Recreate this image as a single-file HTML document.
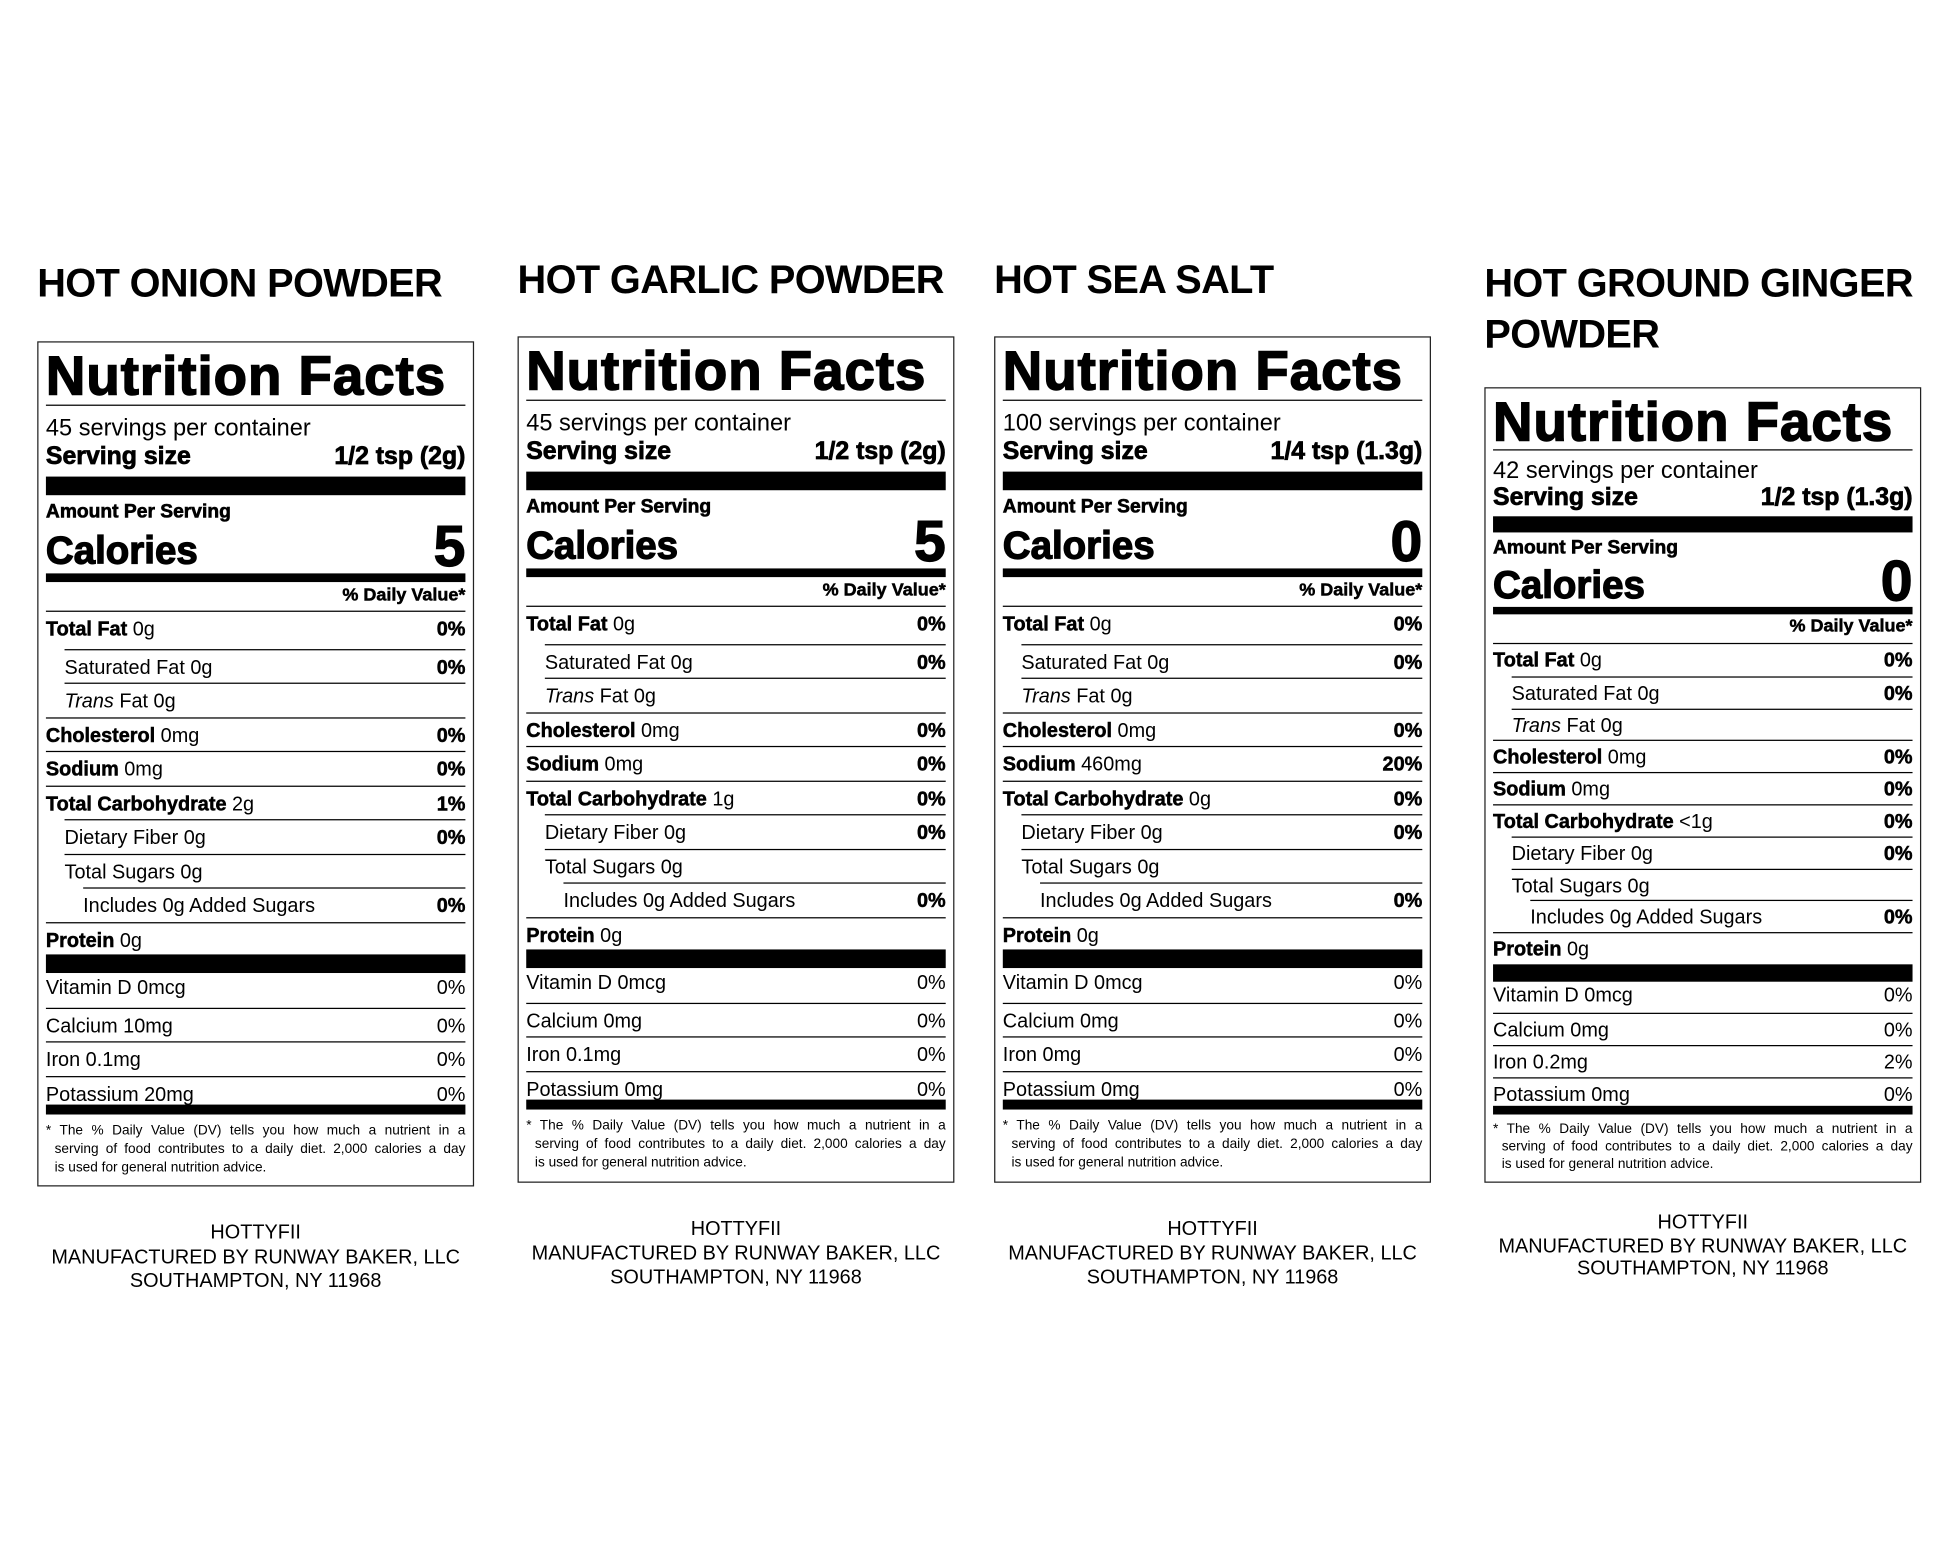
<!DOCTYPE html>
<html><head><meta charset="utf-8"><style>
html,body{margin:0;padding:0;background:#fff;width:1946px;height:1553px;overflow:hidden}
#w{position:absolute;left:0;top:0;width:1568px;height:1251px;transform:scale(1.2411);transform-origin:0 0;font-family:"Liberation Sans",Arial,sans-serif;color:#000}
.t{position:absolute;font-weight:bold;font-size:32px;line-height:40px;white-space:nowrap;letter-spacing:-0.5px}
.f{position:absolute;width:352px;text-align:center;font-size:16px;line-height:19.5px}
.lab{position:absolute;width:352px;border:1.5px solid #222;box-sizing:border-box}
.lab>div{position:absolute;left:6px;right:6px;white-space:nowrap}
.nf{top:5px;height:46px;line-height:46px;font-size:44px;font-weight:bold;letter-spacing:0.8px;-webkit-text-stroke:1.2px #000}
.ln{height:0;border-top:1.5px solid #000}
.sv{font-size:19px;line-height:24px}
.ss{font-size:20px;line-height:22px;font-weight:bold;display:flex;justify-content:space-between;-webkit-text-stroke:0.6px #000}
.bar{background:#000}
.aps{font-size:15.5px;line-height:16px;font-weight:bold;-webkit-text-stroke:0.5px #000}
.cal{font-size:31px;line-height:32px;font-weight:bold;display:flex;justify-content:space-between;align-items:flex-end;-webkit-text-stroke:1px #000}
.cal span:last-child{font-size:46px;line-height:40px}
.dv{font-size:14.5px;line-height:16px;font-weight:bold;text-align:right;-webkit-text-stroke:0.4px #000}
.r{font-size:16px;border-top:1px solid #000;display:flex;justify-content:space-between;box-sizing:border-box}
.r b{-webkit-text-stroke:0.4px #000}
.v{font-size:16px;display:flex;justify-content:space-between;box-sizing:border-box}
.fn{font-size:11px;line-height:15px;white-space:normal!important}
.fn p{margin:0;text-align:justify;text-align-last:justify}
.fn p.i{padding-left:7px}
.fn p.e{text-align-last:left}
.s .r,.s .v{height:27.5px;line-height:29px}
.c .r,.c .v{height:25.8px;line-height:27px}
.fn.c2 {line-height:14px}
</style></head><body><div id="w">

<!-- Label 1 -->
<div class="t" style="left:30px;top:208px">HOT ONION POWDER</div>
<div class="lab s" style="left:30px;top:275px;height:681px">
<div class="nf">Nutrition Facts</div>
<div class="ln" style="top:50px"></div>
<div class="sv" style="top:58px">45 servings per container</div>
<div class="ss" style="top:81px"><span>Serving size</span><span>1/2 tsp (2g)</span></div>
<div class="bar" style="top:108px;height:15px"></div>
<div class="aps" style="top:129px">Amount Per Serving</div>
<div class="cal" style="top:146px;height:38px"><span>Calories</span><span>5</span></div>
<div class="bar" style="top:186px;height:7px"></div>
<div class="dv" style="top:196px">% Daily Value*</div>
<div class="r" style="top:216px"><span><b>Total Fat</b> 0g</span><b>0%</b></div>
<div class="r" style="top:246.5px;left:21px"><span>Saturated Fat 0g</span><b>0%</b></div>
<div class="r" style="top:274px;left:21px"><span><i>Trans</i> Fat 0g</span></div>
<div class="r" style="top:301.5px"><span><b>Cholesterol</b> 0mg</span><b>0%</b></div>
<div class="r" style="top:329px"><span><b>Sodium</b> 0mg</span><b>0%</b></div>
<div class="r" style="top:356.5px"><span><b>Total Carbohydrate</b> 2g</span><b>1%</b></div>
<div class="r" style="top:384px;left:21px"><span>Dietary Fiber 0g</span><b>0%</b></div>
<div class="r" style="top:411.5px;left:21px"><span>Total Sugars 0g</span></div>
<div class="r" style="top:439px;left:36px"><span>Includes 0g Added Sugars</span><b>0%</b></div>
<div class="r" style="top:466.5px"><span><b>Protein</b> 0g</span></div>
<div class="bar" style="top:493px;height:15px"></div>
<div class="v" style="top:506px"><span>Vitamin D 0mcg</span><span>0%</span></div>
<div class="r" style="top:535.5px"><span>Calcium 10mg</span><span>0%</span></div>
<div class="r" style="top:563px"><span>Iron 0.1mg</span><span>0%</span></div>
<div class="r" style="top:590.5px;height:24px"><span>Potassium 20mg</span><span>0%</span></div>
<div class="bar" style="top:614px;height:8px"></div>
<div class="fn" style="top:628px"><p>* The % Daily Value (DV) tells you how much a nutrient in a</p><p class="i">serving of food contributes to a daily diet. 2,000 calories a day</p><p class="i e">is used for general nutrition advice.</p></div>
</div>
<div class="f" style="left:30px;top:984px">HOTTYFII<br>MANUFACTURED BY RUNWAY BAKER, LLC<br>SOUTHAMPTON, NY 11968</div>

<!-- Label 2 -->
<div class="t" style="left:417px;top:205px">HOT GARLIC POWDER</div>
<div class="lab s" style="left:417px;top:271px;height:682px">
<div class="nf">Nutrition Facts</div>
<div class="ln" style="top:50px"></div>
<div class="sv" style="top:58px">45 servings per container</div>
<div class="ss" style="top:81px"><span>Serving size</span><span>1/2 tsp (2g)</span></div>
<div class="bar" style="top:108px;height:15px"></div>
<div class="aps" style="top:129px">Amount Per Serving</div>
<div class="cal" style="top:146px;height:38px"><span>Calories</span><span>5</span></div>
<div class="bar" style="top:186px;height:7px"></div>
<div class="dv" style="top:196px">% Daily Value*</div>
<div class="r" style="top:216px"><span><b>Total Fat</b> 0g</span><b>0%</b></div>
<div class="r" style="top:246.5px;left:21px"><span>Saturated Fat 0g</span><b>0%</b></div>
<div class="r" style="top:274px;left:21px"><span><i>Trans</i> Fat 0g</span></div>
<div class="r" style="top:301.5px"><span><b>Cholesterol</b> 0mg</span><b>0%</b></div>
<div class="r" style="top:329px"><span><b>Sodium</b> 0mg</span><b>0%</b></div>
<div class="r" style="top:356.5px"><span><b>Total Carbohydrate</b> 1g</span><b>0%</b></div>
<div class="r" style="top:384px;left:21px"><span>Dietary Fiber 0g</span><b>0%</b></div>
<div class="r" style="top:411.5px;left:21px"><span>Total Sugars 0g</span></div>
<div class="r" style="top:439px;left:36px"><span>Includes 0g Added Sugars</span><b>0%</b></div>
<div class="r" style="top:466.5px"><span><b>Protein</b> 0g</span></div>
<div class="bar" style="top:493px;height:15px"></div>
<div class="v" style="top:506px"><span>Vitamin D 0mcg</span><span>0%</span></div>
<div class="r" style="top:535.5px"><span>Calcium 0mg</span><span>0%</span></div>
<div class="r" style="top:563px"><span>Iron 0.1mg</span><span>0%</span></div>
<div class="r" style="top:590.5px;height:24px"><span>Potassium 0mg</span><span>0%</span></div>
<div class="bar" style="top:614px;height:8px"></div>
<div class="fn" style="top:628px"><p>* The % Daily Value (DV) tells you how much a nutrient in a</p><p class="i">serving of food contributes to a daily diet. 2,000 calories a day</p><p class="i e">is used for general nutrition advice.</p></div>
</div>
<div class="f" style="left:417px;top:981px">HOTTYFII<br>MANUFACTURED BY RUNWAY BAKER, LLC<br>SOUTHAMPTON, NY 11968</div>

<!-- Label 3 -->
<div class="t" style="left:801px;top:205px">HOT SEA SALT</div>
<div class="lab s" style="left:801px;top:271px;height:682px">
<div class="nf">Nutrition Facts</div>
<div class="ln" style="top:50px"></div>
<div class="sv" style="top:58px">100 servings per container</div>
<div class="ss" style="top:81px"><span>Serving size</span><span>1/4 tsp (1.3g)</span></div>
<div class="bar" style="top:108px;height:15px"></div>
<div class="aps" style="top:129px">Amount Per Serving</div>
<div class="cal" style="top:146px;height:38px"><span>Calories</span><span>0</span></div>
<div class="bar" style="top:186px;height:7px"></div>
<div class="dv" style="top:196px">% Daily Value*</div>
<div class="r" style="top:216px"><span><b>Total Fat</b> 0g</span><b>0%</b></div>
<div class="r" style="top:246.5px;left:21px"><span>Saturated Fat 0g</span><b>0%</b></div>
<div class="r" style="top:274px;left:21px"><span><i>Trans</i> Fat 0g</span></div>
<div class="r" style="top:301.5px"><span><b>Cholesterol</b> 0mg</span><b>0%</b></div>
<div class="r" style="top:329px"><span><b>Sodium</b> 460mg</span><b>20%</b></div>
<div class="r" style="top:356.5px"><span><b>Total Carbohydrate</b> 0g</span><b>0%</b></div>
<div class="r" style="top:384px;left:21px"><span>Dietary Fiber 0g</span><b>0%</b></div>
<div class="r" style="top:411.5px;left:21px"><span>Total Sugars 0g</span></div>
<div class="r" style="top:439px;left:36px"><span>Includes 0g Added Sugars</span><b>0%</b></div>
<div class="r" style="top:466.5px"><span><b>Protein</b> 0g</span></div>
<div class="bar" style="top:493px;height:15px"></div>
<div class="v" style="top:506px"><span>Vitamin D 0mcg</span><span>0%</span></div>
<div class="r" style="top:535.5px"><span>Calcium 0mg</span><span>0%</span></div>
<div class="r" style="top:563px"><span>Iron 0mg</span><span>0%</span></div>
<div class="r" style="top:590.5px;height:24px"><span>Potassium 0mg</span><span>0%</span></div>
<div class="bar" style="top:614px;height:8px"></div>
<div class="fn" style="top:628px"><p>* The % Daily Value (DV) tells you how much a nutrient in a</p><p class="i">serving of food contributes to a daily diet. 2,000 calories a day</p><p class="i e">is used for general nutrition advice.</p></div>
</div>
<div class="f" style="left:801px;top:981px">HOTTYFII<br>MANUFACTURED BY RUNWAY BAKER, LLC<br>SOUTHAMPTON, NY 11968</div>

<!-- Label 4 -->
<div class="t" style="left:1196px;top:208px;line-height:41px">HOT GROUND GINGER<br>POWDER</div>
<div class="lab c" style="left:1196px;top:312px;height:641px">
<div class="nf">Nutrition Facts</div>
<div class="ln" style="top:49px"></div>
<div class="sv" style="top:55px">42 servings per container</div>
<div class="ss" style="top:77px"><span>Serving size</span><span>1/2 tsp (1.3g)</span></div>
<div class="bar" style="top:103px;height:13px"></div>
<div class="aps" style="top:121px">Amount Per Serving</div>
<div class="cal" style="top:137px;height:38px"><span>Calories</span><span>0</span></div>
<div class="bar" style="top:176px;height:6px"></div>
<div class="dv" style="top:184px">% Daily Value*</div>
<div class="r" style="top:205px"><span><b>Total Fat</b> 0g</span><b>0%</b></div>
<div class="r" style="top:231.8px;left:21px"><span>Saturated Fat 0g</span><b>0%</b></div>
<div class="r" style="top:257.6px;left:21px"><span><i>Trans</i> Fat 0g</span></div>
<div class="r" style="top:283.4px"><span><b>Cholesterol</b> 0mg</span><b>0%</b></div>
<div class="r" style="top:309.2px"><span><b>Sodium</b> 0mg</span><b>0%</b></div>
<div class="r" style="top:335px"><span><b>Total Carbohydrate</b> &lt;1g</span><b>0%</b></div>
<div class="r" style="top:360.8px;left:21px"><span>Dietary Fiber 0g</span><b>0%</b></div>
<div class="r" style="top:386.6px;left:21px"><span>Total Sugars 0g</span></div>
<div class="r" style="top:412.4px;left:36px"><span>Includes 0g Added Sugars</span><b>0%</b></div>
<div class="r" style="top:438.2px"><span><b>Protein</b> 0g</span></div>
<div class="bar" style="top:464px;height:14px"></div>
<div class="v" style="top:476px"><span>Vitamin D 0mcg</span><span>0%</span></div>
<div class="r" style="top:503px"><span>Calcium 0mg</span><span>0%</span></div>
<div class="r" style="top:529px"><span>Iron 0.2mg</span><span>2%</span></div>
<div class="r" style="top:555px;height:23px"><span>Potassium 0mg</span><span>0%</span></div>
<div class="bar" style="top:578px;height:7px"></div>
<div class="fn c2" style="top:590px"><p>* The % Daily Value (DV) tells you how much a nutrient in a</p><p class="i">serving of food contributes to a daily diet. 2,000 calories a day</p><p class="i e">is used for general nutrition advice.</p></div>
</div>
<div class="f" style="left:1196px;top:977px;line-height:18.5px">HOTTYFII<br>MANUFACTURED BY RUNWAY BAKER, LLC<br>SOUTHAMPTON, NY 11968</div>

</div></body></html>
